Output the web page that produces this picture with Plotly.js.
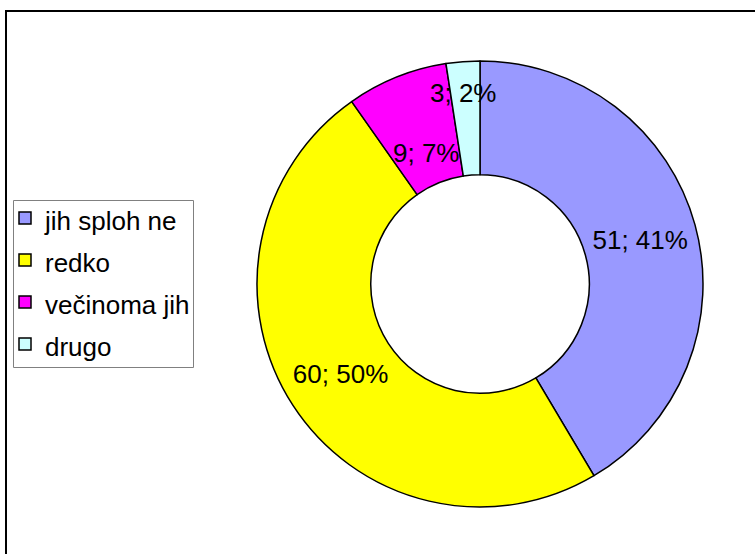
<!DOCTYPE html>
<html>
<head>
<meta charset="utf-8">
<script src="https://cdn.plot.ly/plotly-3.0.1.min.js"></script>
<style>
html,body{margin:0;padding:0;background:#fff;}
#chart{width:755px;height:554px;}
</style>
</head>
<body>
<div id="chart"></div>
<script>
const categories = ["jih sploh ne", "redko", "večinoma jih", "drugo"];
const counts = [51, 60, 9, 3];
const percentLabels = ["41%", "50%", "7%", "2%"];
const sliceColors = ["#9999FF", "#FFFF00", "#FF00FF", "#CCFFFF"];

const W = 755, H = 554;
const px = x => x / W;
const py = y => 1 - y / H;

const FAMILY = "Liberation Sans, Arial, sans-serif";
const font = {family: FAMILY, size: 26, color: "#000"};

const trace = {
  type: "pie",
  labels: categories.map(c => '<span style="font-size:26px">' + c + '</span>'),
  values: counts,
  text: percentLabels,
  texttemplate: ["%{value}; %{text}", "%{value}; %{text}", "", ""],
  textposition: "inside",
  insidetextorientation: "horizontal",
  insidetextfont: font,
  hole: 0.49,
  sort: false,
  direction: "clockwise",
  rotation: 0,
  marker: {colors: sliceColors, line: {color: "#000", width: 1.5}},
  domain: {x: [px(257), px(703)], y: [py(507), py(61)]},
  hoverinfo: "label+value+percent"
};

const layout = {
  width: W, height: H,
  margin: {l: 0, r: 0, t: 0, b: 0},
  paper_bgcolor: "#fff",
  font: font,
  showlegend: true,
  legend: {
    x: px(5), y: py(192), xanchor: "left", yanchor: "top",
    bgcolor: "rgba(0,0,0,0)", borderwidth: 0,
    font: {family: FAMILY, size: 30, color: "#000"},
    traceorder: "normal"
  },
  shapes: [
    {type: "rect", xref: "paper", yref: "paper",
     x0: px(6), x1: 1.1, y0: -0.1, y1: py(11),
     line: {color: "#000", width: 2}, fillcolor: "rgba(0,0,0,0)", layer: "below"},
    {type: "rect", xref: "paper", yref: "paper",
     x0: px(13.5), x1: px(193.5), y0: py(367.5), y1: py(200.5),
     line: {color: "#808080", width: 1}, fillcolor: "#fff", layer: "below"}
  ],
  annotations: [
    {xref: "paper", yref: "paper", x: px(426), y: py(153), showarrow: false,
     text: counts[2] + "; " + percentLabels[2], font: font, xanchor: "center", yanchor: "middle"},
    {xref: "paper", yref: "paper", x: px(463), y: py(93), showarrow: false,
     text: counts[3] + "; " + percentLabels[3], font: font, xanchor: "center", yanchor: "middle"}
  ]
};

Plotly.newPlot("chart", [trace], layout, {displayModeBar: false, staticPlot: true});
</script>
</body>
</html>
